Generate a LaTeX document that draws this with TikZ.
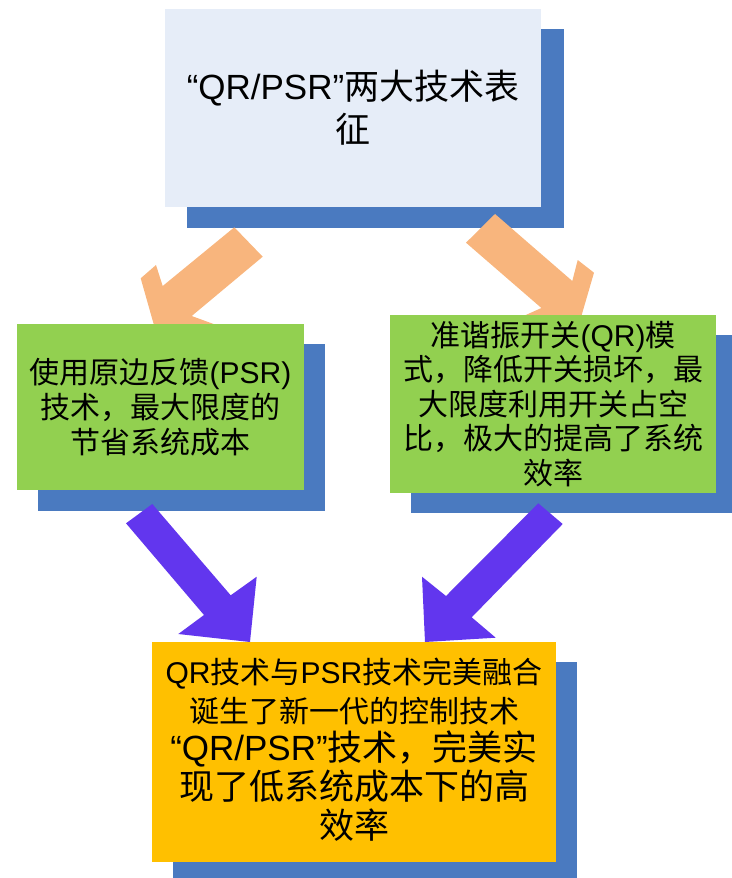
\documentclass[tikz,border=0pt]{standalone}
\usepackage{fontspec}
\setmainfont{Liberation Sans}
\newfontfamily\cjk{Noto Sans CJK SC}
\newcommand{\zh}[1]{{\cjk #1}}
\newcommand{\bigline}[1]{{\fontsize{35}{38.7}\selectfont #1}}
\definecolor{shadowblue}{HTML}{4A7AC0}
\definecolor{topfill}{HTML}{E6EDF8}
\definecolor{greenfill}{HTML}{92D050}
\definecolor{orangefill}{HTML}{FFC000}
\definecolor{peach}{HTML}{F8B57D}
\definecolor{violetarrow}{HTML}{6236EE}
\tikzset{
  card/.style={inner sep=0pt, align=center, text=black},
  cardshadow/.style={fill=shadowblue},
  peacharrow/.style={fill=peach},
  violetblock/.style={fill=violetarrow},
}
\begin{document}
\begin{tikzpicture}[x=1pt,y=-1pt]
\useasboundingbox (0,0) rectangle (731,878);
% top box
\fill[cardshadow] (187,29) rectangle (564,228);
\node[card, fill=topfill, minimum width=376, minimum height=198,
      font=\fontsize{35}{43}\selectfont] (top) at (353,108)
  {“QR/PSR”\zh{两大技术表}\\\zh{征}};
% orange arrows
\fill[peacharrow] (234.3,227.3) -- (162.7,286) -- (156,265) -- (140.7,278.3)
  -- (159.6,345) -- (230,330) -- (191.7,316) -- (262.7,256.7) -- cycle;
\fill[peacharrow] (495,214) -- (572.3,281) -- (577.7,260) -- (594,272.7)
  -- (574.4,340) -- (510,322) -- (541.4,308) -- (466,242.7) -- cycle;
% green boxes
\fill[cardshadow] (38,344) rectangle (325,511);
\node[card, fill=greenfill, minimum width=287, minimum height=166,
      font=\fontsize{30}{35}\selectfont] (left) at (160.5,407)
  {\zh{使用原边反馈}(PSR)\\\zh{技术，最大限度的}\\\zh{节省系统成本}};
\fill[cardshadow] (411,335) rectangle (737,513);
\node[card, fill=greenfill, minimum width=326, minimum height=178,
      font=\fontsize{30}{34.5}\selectfont] (right) at (553,404)
  {\zh{准谐振开关}(QR)\zh{模}\\\zh{式，降低开关损坏，最}\\\zh{大限度利用开关占空}\\\zh{比，极大的提高了系统}\\\zh{效率}};
% violet arrows
\fill[violetblock] (152.3,504) -- (230.7,595.3) -- (256.7,576.7) -- (250,642)
  -- (178.3,634) -- (204,615) -- (126,523.3) -- cycle;
\fill[violetblock] (538.3,503.3) -- (446,596) -- (422,576.7) -- (425,642)
  -- (495.7,637.7) -- (471.7,617.3) -- (562.7,524) -- cycle;
% bottom box
\fill[cardshadow] (173,662) rectangle (577,880);
\node[card, fill=orangefill, minimum width=404, minimum height=220] (bottom) at (354,752) {};
\node[card, font=\fontsize{30}{38.7}\selectfont] (bottomtext) at (354,749.5)
  {QR\zh{技术与}PSR\zh{技术完美融合}\\\zh{诞生了新一代的控制技术}\\\bigline{“QR/PSR”\zh{技术，完美实}}\\\bigline{\zh{现了低系统成本下的高}}\\\bigline{\zh{效率}}};
\end{tikzpicture}
\end{document}
